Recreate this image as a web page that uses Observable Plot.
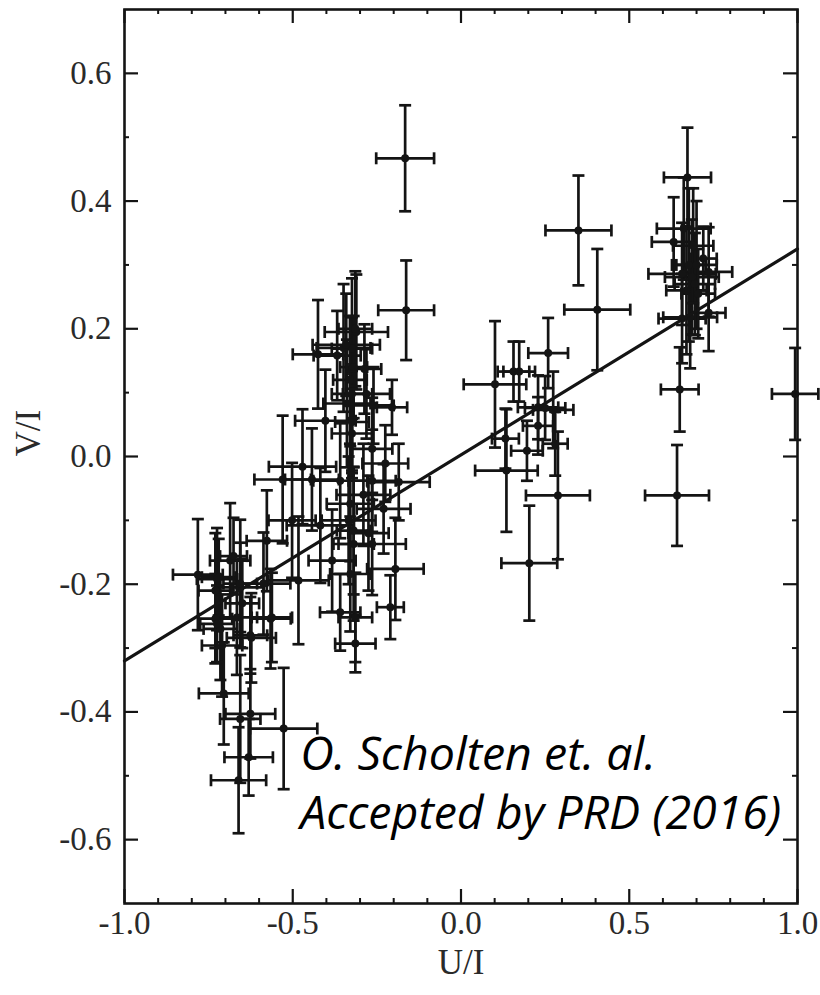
<!DOCTYPE html>
<html><head><meta charset="utf-8">
<script src="https://cdn.jsdelivr.net/npm/d3@7"></script>
<script src="https://cdn.jsdelivr.net/npm/@observablehq/plot@0.6"></script>
<style>body{margin:0;background:#fff}</style>
</head><body><div id="chart"></div>
<script>
// Measured points: U/I, V/I and their half error bars
const u = [
 -0.166,-0.163, 0.349, 0.405, 0.673, 0.642, 0.650, 0.993, 0.203, 0.288, 0.135, 0.101, 0.259, 0.156, 0.173, 0.229, 0.250, 0.274, 0.229, 0.132, 0.196, 0.280,
  0.632, 0.662, 0.690, 0.736, 0.657, 0.686, 0.700, 0.657, 0.681, 0.736, 0.670, 0.705, 0.677, 0.720, 0.695,
 -0.425,-0.368,-0.349,-0.324,-0.311,-0.341,-0.287,-0.281,-0.324,-0.205,-0.403,-0.324,-0.339,-0.260,-0.314,-0.330,-0.319,
 -0.530,-0.471,-0.443,-0.324,-0.264,-0.225,-0.185,-0.264,-0.359,-0.230,-0.329,-0.334,-0.319,-0.418,-0.264,-0.319,-0.383,-0.329,-0.195,-0.210,-0.359,-0.314,-0.314,-0.502,-0.290,-0.275,
 -0.782,-0.725,-0.686,-0.656,-0.587,-0.577,-0.483,-0.720,-0.656,-0.730,-0.676,-0.730,-0.715,-0.623,-0.566,-0.710,-0.705,-0.626,-0.656,-0.527,-0.631,-0.661,-0.562,-0.725,-0.666,-0.626,-0.650
];
const v = [
  0.467, 0.229, 0.354, 0.230, 0.437,-0.061, 0.105, 0.098,-0.167,-0.061,-0.022, 0.113, 0.162, 0.133, 0.133, 0.077, 0.076, 0.073, 0.048, 0.028, 0.009, 0.020,
  0.336, 0.357, 0.330, 0.289, 0.286, 0.281, 0.300, 0.216, 0.218, 0.225, 0.260, 0.255, 0.300, 0.310, 0.270,
  0.160, 0.158, 0.170, 0.169, 0.195, 0.175, 0.137, 0.098, 0.098, 0.077, 0.056, 0.054, 0.083, 0.080, 0.200, 0.120, 0.140,
 -0.036,-0.016,-0.036, 0.036, 0.012,-0.011,-0.040,-0.038,-0.038,-0.082,-0.074,-0.100,-0.116,-0.108,-0.137,-0.137,-0.163,-0.184,-0.176,-0.236,-0.244,-0.252,-0.293,-0.100,-0.060,-0.120,
 -0.185,-0.192,-0.163,-0.205,-0.199,-0.132,-0.194,-0.189,-0.199,-0.210,-0.156,-0.254,-0.270,-0.284,-0.254,-0.296,-0.371,-0.403,-0.411,-0.426,-0.471,-0.507,-0.252,-0.262,-0.252,-0.280,-0.230
];
const du = [
  0.086, 0.083, 0.098, 0.098, 0.070, 0.095, 0.056, 0.069, 0.083, 0.095, 0.093, 0.093, 0.059, 0.047, 0.047, 0.060, 0.060, 0.060, 0.045, 0.040, 0.047, 0.037,
  0.065, 0.080, 0.060, 0.070, 0.100, 0.080, 0.060, 0.070, 0.080, 0.050, 0.060, 0.050, 0.050, 0.040, 0.060,
  0.075, 0.070, 0.080, 0.060, 0.094, 0.100, 0.050, 0.070, 0.060, 0.045, 0.090, 0.050, 0.070, 0.060, 0.050, 0.050, 0.040,
  0.084, 0.100, 0.080, 0.060, 0.060, 0.068, 0.092, 0.070, 0.080, 0.080, 0.070, 0.080, 0.050, 0.100, 0.100, 0.060, 0.070, 0.060, 0.084, 0.040, 0.060, 0.050, 0.060, 0.070, 0.080, 0.060,
  0.074, 0.060, 0.060, 0.070, 0.080, 0.060, 0.090, 0.050, 0.050, 0.050, 0.040, 0.050, 0.050, 0.073, 0.060, 0.060, 0.074, 0.074, 0.060, 0.100, 0.072, 0.082, 0.060, 0.050, 0.060, 0.050, 0.050
];
const dv = [
  0.083, 0.078, 0.086, 0.095, 0.078, 0.079, 0.066, 0.072, 0.090, 0.100, 0.096, 0.099, 0.055, 0.047, 0.047, 0.050, 0.050, 0.060, 0.045, 0.047, 0.047, 0.050,
  0.070, 0.080, 0.090, 0.070, 0.080, 0.090, 0.100, 0.070, 0.080, 0.060, 0.100, 0.070, 0.120, 0.050, 0.080,
  0.085, 0.070, 0.100, 0.110, 0.090, 0.080, 0.070, 0.070, 0.120, 0.043, 0.080, 0.080, 0.100, 0.060, 0.090, 0.100, 0.080,
  0.100, 0.090, 0.080, 0.070, 0.080, 0.060, 0.060, 0.080, 0.090, 0.070, 0.090, 0.100, 0.100, 0.090, 0.080, 0.120, 0.080, 0.090, 0.080, 0.050, 0.060, 0.070, 0.045, 0.090, 0.080, 0.090,
  0.087, 0.080, 0.090, 0.070, 0.080, 0.079, 0.100, 0.060, 0.100, 0.090, 0.060, 0.070, 0.080, 0.070, 0.078, 0.080, 0.080, 0.070, 0.100, 0.095, 0.060, 0.083, 0.070, 0.060, 0.090, 0.060, 0.070
];
// Linear fit line end points
const fitU = [-1, 1];
const fitV = [-0.320, 0.325];
// Axis ticks
const xMajor = [-1, -0.5, 0, 0.5, 1];
const xMinor = [-0.9,-0.8,-0.7,-0.6,-0.4,-0.3,-0.2,-0.1,0.1,0.2,0.3,0.4,0.6,0.7,0.8,0.9];
const yMajor = [-0.6,-0.4,-0.2,0,0.2,0.4,0.6];
const yMinor = [-0.5,-0.3,-0.1,0.1,0.3,0.5];
const xLabel = "U/I";
const yLabel = "V/I";
const note = ["O. Scholten et. al.", "Accepted by PRD (2016)"];
const noteU = -0.478, noteV = -0.507;

const W = 820, H = 995, mT = 9, mB = 92, mL = 124, mR = 23;
const plotH = H - mT - mB, plotW = W - mL - mR;
const ink = "#141414";
const data = u.map((x, i) => ({u: x, v: v[i], du: du[i], dv: dv[i]}));
const fit = fitU.map((x, i) => ({u: x, v: fitV[i]}));
const capH = {draw(ctx, size) { const r = Math.sqrt(size / Math.PI); ctx.moveTo(-r, 0); ctx.lineTo(r, 0); }};
const capV = {draw(ctx, size) { const r = Math.sqrt(size / Math.PI); ctx.moveTo(0, -r); ctx.lineTo(0, r); }};
const fmt = d => d.toFixed(1);
const serif = "'Liberation Serif', 'Times New Roman', serif";
const capR = 6, bw = 2.7, maj = 14, mnr = 5;

const chart = Plot.plot({
  width: W, height: H,
  marginTop: mT, marginBottom: mB, marginLeft: mL, marginRight: mR,
  x: {domain: [-1, 1], axis: null},
  y: {domain: [-0.7, 0.7], axis: null},
  style: {background: "#fff", color: ink, fontFamily: serif},
  marks: [
    // error bars
    Plot.ruleY(data, {y: "v", x1: d => d.u - d.du, x2: d => d.u + d.du, stroke: ink, strokeWidth: bw}),
    Plot.ruleX(data, {x: "u", y1: d => d.v - d.dv, y2: d => d.v + d.dv, stroke: ink, strokeWidth: bw}),
    Plot.dot(data, {x: d => d.u - d.du, y: "v", symbol: capV, r: capR, fill: "none", stroke: ink, strokeWidth: bw}),
    Plot.dot(data, {x: d => d.u + d.du, y: "v", symbol: capV, r: capR, fill: "none", stroke: ink, strokeWidth: bw}),
    Plot.dot(data, {x: "u", y: d => d.v - d.dv, symbol: capH, r: capR, fill: "none", stroke: ink, strokeWidth: bw}),
    Plot.dot(data, {x: "u", y: d => d.v + d.dv, symbol: capH, r: capR, fill: "none", stroke: ink, strokeWidth: bw}),
    Plot.dot(data, {x: "u", y: "v", r: 4, fill: ink, stroke: "none"}),
    // fit line
    Plot.line(fit, {x: "u", y: "v", stroke: ink, strokeWidth: 3.2}),
    // ticks (inward)
    Plot.tickX(xMajor, {x: d => d, insetTop: plotH - maj, stroke: ink, strokeWidth: 2.2}),
    Plot.tickX(xMajor, {x: d => d, insetBottom: plotH - maj, stroke: ink, strokeWidth: 2.2}),
    Plot.tickX(xMinor, {x: d => d, insetTop: plotH - mnr, stroke: ink, strokeWidth: 2}),
    Plot.tickX(xMinor, {x: d => d, insetBottom: plotH - mnr, stroke: ink, strokeWidth: 2}),
    Plot.tickY(yMajor, {y: d => d, insetRight: plotW - maj, stroke: ink, strokeWidth: 2.2}),
    Plot.tickY(yMajor, {y: d => d, insetLeft: plotW - maj, stroke: ink, strokeWidth: 2.2}),
    Plot.tickY(yMinor, {y: d => d, insetRight: plotW - mnr, stroke: ink, strokeWidth: 2}),
    Plot.tickY(yMinor, {y: d => d, insetLeft: plotW - mnr, stroke: ink, strokeWidth: 2}),
    Plot.frame({stroke: ink, strokeWidth: 2.6}),
    // tick labels
    Plot.text(xMajor, {x: d => d, frameAnchor: "bottom", dy: 30, text: fmt, fontSize: 33, fontFamily: serif, fill: "#2a2a2a"}),
    Plot.text(yMajor, {y: d => d, frameAnchor: "left", dx: -13, textAnchor: "end", text: fmt, fontSize: 33, fontFamily: serif, fill: "#2a2a2a"}),
    // axis labels
    Plot.text([xLabel], {frameAnchor: "bottom", dy: 70, text: d => d, fontSize: 35, fontFamily: serif, fill: "#2a2a2a"}),
    Plot.text([yLabel], {frameAnchor: "left", dx: -96, rotate: -90, text: d => d, fontSize: 35, fontFamily: serif, fill: "#2a2a2a"}),
    // annotation
    Plot.text([note.join("\n")], {x: noteU, y: noteV, text: d => d, textAnchor: "start", lineHeight: 1.27, fontSize: 46.5, fontStyle: "italic", fontFamily: "'Open Sans', sans-serif", fill: "#000"})
  ]
});
document.getElementById("chart").appendChild(chart);
</script>
</body></html>
